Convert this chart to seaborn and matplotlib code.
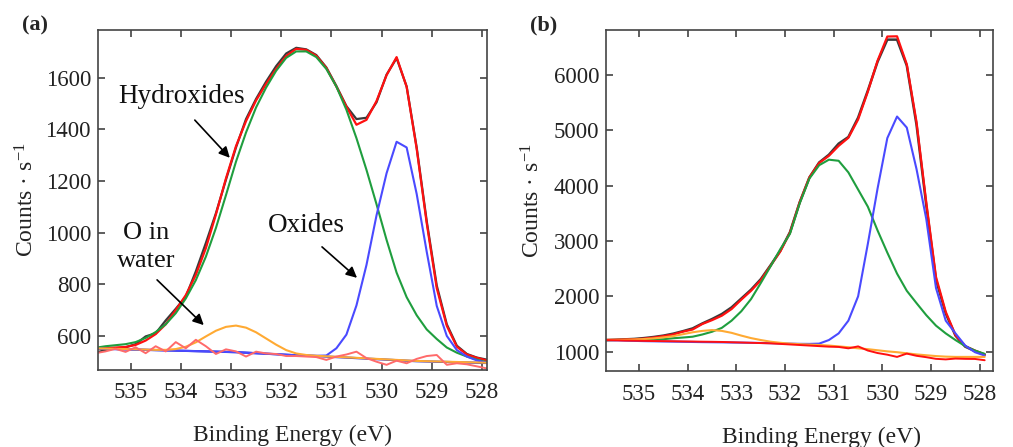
import numpy as np
import pandas as pd
import seaborn as sns
import matplotlib.pyplot as plt

sns.set_style("ticks")
plt.rcParams["font.family"] = ["Liberation Serif", "DejaVu Serif"]
plt.rcParams["mathtext.fontset"] = "custom"
plt.rcParams["mathtext.rm"] = "Liberation Serif"
plt.rcParams["mathtext.it"] = "Liberation Serif:italic"

# binding energy grid (eV)
energy = [535.7, 535.5, 535.3, 535.1, 534.9, 534.7, 534.5, 534.3, 534.1, 533.9,
          533.7, 533.5, 533.3, 533.1, 532.9, 532.7, 532.5, 532.3, 532.1, 531.9,
          531.7, 531.5, 531.3, 531.1, 530.9, 530.7, 530.5, 530.3, 530.1, 529.9,
          529.7, 529.5, 529.3, 529.1, 528.9, 528.7, 528.5, 528.3, 528.1, 527.9]

# panel (a)
a_data = [535, 545, 552, 556, 568, 598, 610, 660, 705, 752,
          850, 960, 1075, 1205, 1330, 1440, 1518, 1585, 1645, 1694,
          1716, 1710, 1688, 1640, 1568, 1490, 1440, 1445, 1505, 1612,
          1676, 1566, 1330, 1045, 795, 645, 562, 530, 516, 508]
a_fit = [550, 553, 555, 557, 565, 582, 607, 645, 700, 758,
         836, 940, 1070, 1210, 1335, 1432, 1512, 1576, 1634, 1684,
         1712, 1708, 1685, 1638, 1566, 1488, 1418, 1437, 1510, 1610,
         1680, 1565, 1325, 1037, 785, 639, 558, 528, 515, 505]
a_hydroxide = [554, 560, 564, 568, 576, 592, 615, 645, 688, 745,
               816, 907, 1018, 1145, 1275, 1388, 1485, 1562, 1627, 1677,
               1702, 1702, 1680, 1634, 1566, 1476, 1366, 1243, 1110, 972,
               845, 750, 680, 625, 588, 555, 535, 520, 508, 498]
a_oxide = [551, 550, 549, 548, 547, 546, 545, 544, 543, 542,
           541, 540, 539, 538, 537, 535, 533, 531, 529, 527,
           525, 524, 523, 524, 552, 605, 718, 875, 1067, 1230,
           1352, 1330, 1150, 926, 716, 600, 545, 520, 505, 496]
a_water = [552, 551, 550, 549, 548, 547, 546, 546, 549, 558,
           575, 598, 620, 635, 640, 632, 614, 590, 566, 545,
           532, 526, 523, 521, 519, 517, 515, 513, 511, 509,
           507, 505, 503, 502, 501, 500, 499, 498, 497, 496]
a_bg = [551, 550, 549, 548, 547, 546, 545, 544, 543, 542,
        541, 540, 539, 538, 537, 535, 533, 531, 529, 527,
        525, 524, 522, 520, 518, 516, 514, 512, 510, 508,
        506, 504, 502, 501, 500, 499, 498, 497, 496, 495]
a_noise = [533, 540, 550, 538, 556, 533, 560, 540, 576, 552,
           585, 560, 530, 548, 540, 520, 539, 532, 530, 522,
           522, 520, 518, 507, 520, 528, 539, 514, 500, 488,
           504, 494, 511, 522, 526, 488, 494, 490, 482, 474]

# panel (b)
b_data = [1205, 1212, 1222, 1230, 1245, 1265, 1290, 1325, 1370, 1420,
          1510, 1590, 1680, 1800, 1960, 2120, 2310, 2560, 2820, 3160,
          3700, 4150, 4420, 4560, 4760, 4880, 5230, 5720, 6240, 6640,
          6640, 6170, 5100, 3650, 2300, 1690, 1290, 1090, 1010, 945]
b_fit = [1212, 1215, 1220, 1222, 1235, 1255, 1280, 1310, 1362, 1400,
         1500, 1570, 1650, 1770, 1940, 2100, 2290, 2550, 2810, 3150,
         3700, 4150, 4410, 4540, 4720, 4866, 5197, 5700, 6260, 6696,
         6700, 6194, 5150, 3700, 2350, 1720, 1300, 1100, 1020, 950]
b_hydroxide = [1212, 1212, 1211, 1208, 1210, 1215, 1225, 1242, 1255, 1270,
               1310, 1360, 1430, 1560, 1730, 1950, 2240, 2540, 2850, 3130,
               3680, 4130, 4370, 4470, 4450, 4240, 3930, 3620, 3190, 2790,
               2410, 2100, 1877, 1660, 1470, 1330, 1210, 1100, 1020, 960]
b_oxide = [1212, 1205, 1200, 1195, 1190, 1187, 1184, 1181, 1178, 1175,
           1172, 1170, 1168, 1165, 1163, 1160, 1157, 1153, 1148, 1145,
           1141, 1140, 1145, 1210, 1330, 1560, 2000, 2950, 3950, 4860,
           5250, 5050, 4300, 3400, 2150, 1560, 1330, 1110, 990, 930]
b_water = [1212, 1212, 1215, 1220, 1228, 1240, 1258, 1280, 1315, 1350,
           1375, 1390, 1375, 1340, 1290, 1245, 1210, 1180, 1160, 1145,
           1135, 1128, 1120, 1110, 1095, 1080, 1060, 1045, 1025, 1005,
           990, 970, 950, 935, 920, 910, 905, 905, 905, 905]
b_noise = [1210, 1205, 1200, 1198, 1195, 1192, 1190, 1188, 1185, 1183,
           1180, 1178, 1175, 1170, 1165, 1160, 1155, 1150, 1140, 1130,
           1120, 1110, 1100, 1090, 1085, 1060, 1095, 1020, 975, 945,
           905, 965, 925, 900, 870, 860, 875, 870, 868, 845]

x_ticks = [535, 534, 533, 532, 531, 530, 529, 528]
a_yticks = [600, 800, 1000, 1200, 1400, 1600]
b_yticks = [1000, 2000, 3000, 4000, 5000, 6000]


def draw_panel(ax, curves, xlim, ylim, yticks):
    for vals, col, lw in curves:
        sns.lineplot(x=energy, y=vals, color=col, lw=lw, ax=ax, sort=False)
    ax.set_xlim(*xlim)
    ax.set_ylim(*ylim)
    ax.set_xticks(x_ticks)
    ax.set_yticks(yticks)
    ax.tick_params(direction="in", top=True, right=True, length=5, width=1.1,
                   labelsize=16.5, colors="#333333", labelcolor="#222222")
    ax.tick_params(axis="x", pad=9)
    ax.tick_params(axis="y", pad=5)
    for s in ax.spines.values():
        s.set_color("#444444")
        s.set_linewidth(1.2)
    ax.set_xlabel("Binding Energy (eV)", fontsize=17, color="#222222")
    ax.set_ylabel(r"Counts · s$^{\mathrm{-1}}$", fontsize=17, color="#222222")


fig = plt.figure(figsize=(10.13, 4.47), dpi=100)
ax1 = fig.add_axes([0.0967, 0.1723, 0.384, 0.7606])
ax2 = fig.add_axes([0.5982, 0.170, 0.382, 0.763])

black = "#3a3a3a"
red = "#ff1010"
green = "#1f9e3e"
blue = "#4a4aff"
orange = "#ffaa33"
pink = "#ff6a6a"

draw_panel(ax1, [(a_bg, "#2a2ad0", 1.6), (a_data, black, 1.6), (a_fit, red, 1.6),
                 (a_hydroxide, green, 1.5), (a_oxide, blue, 1.5),
                 (a_water, orange, 1.5), (a_noise, pink, 1.4)],
           (535.65, 527.9), (468, 1785), a_yticks)
draw_panel(ax2, [(b_data, black, 1.8), (b_fit, red, 1.6),
                 (b_hydroxide, green, 1.5), (b_oxide, blue, 1.5),
                 (b_water, orange, 1.5), (b_noise, red, 1.4)],
           (535.68, 527.73), (650, 6815), b_yticks)

ax1.xaxis.set_label_coords(0.499, -0.162)
ax1.yaxis.set_label_coords(-0.154, 0.5)
ax2.xaxis.set_label_coords(0.558, -0.165)
ax2.yaxis.set_label_coords(-0.16, 0.5)

# annotations in panel (a)
arrow = dict(arrowstyle="-|>", color="black", lw=1.2, mutation_scale=16,
             shrinkA=0, shrinkB=0)
ax1.text(0.216, 0.803, "Hydroxides", transform=ax1.transAxes, fontsize=19.5,
         ha="center", va="center", color="#111111")
ax1.annotate("", xy=(0.339, 0.624), xytext=(0.249, 0.735),
             xycoords="axes fraction", arrowprops=arrow)
ax1.text(0.123, 0.362, "O in\nwater", transform=ax1.transAxes, fontsize=19,
         ha="center", va="center", linespacing=1.4, color="#111111")
ax1.annotate("", xy=(0.272, 0.132), xytext=(0.152, 0.265),
             xycoords="axes fraction", arrowprops=arrow)
ax1.text(0.537, 0.424, "Oxides", transform=ax1.transAxes, fontsize=19.5,
         ha="center", va="center", color="#111111")
ax1.annotate("", xy=(0.666, 0.271), xytext=(0.576, 0.362),
             xycoords="axes fraction", arrowprops=arrow)

fig.text(0.0217, 0.942, "(a)", fontsize=16, fontweight="bold", va="center")
fig.text(0.523, 0.942, "(b)", fontsize=16, fontweight="bold", va="center")

fig.savefig("out.png", dpi=100)
